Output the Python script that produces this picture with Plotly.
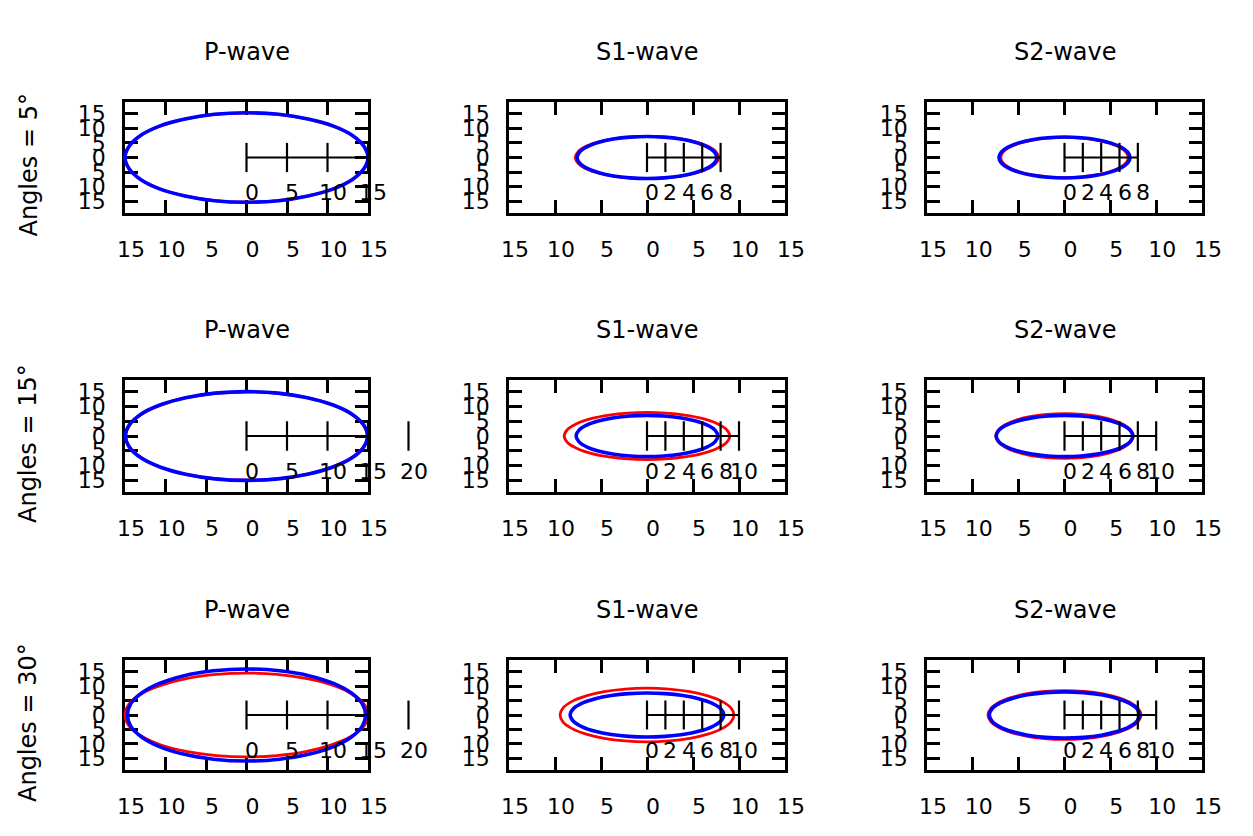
import plotly.graph_objects as go
import math

W, H = 1253, 836

col_titles = ["P-wave", "S1-wave", "S2-wave"]
row_labels = ["Angles = 5°", "Angles = 15°", "Angles = 30°"]

axis_tickvals = [-15, -10, -5, 0, 5, 10, 15]
axis_ticktext = ["15", "10", "5", "0", "5", "10", "15"]
x_limit = 15
y_limit = 19

# polar angles (degrees) at which the radii below were read
angles_deg = [0, 15, 30, 45, 60, 75, 90, 105, 120, 135, 150, 165,
              180, 195, 210, 225, 240, 255, 270, 285, 300, 315, 330, 345]

# ---- radii (red series, blue series) ----
p5_red = [15.0, 15.0, 15.1, 15.1, 15.2, 15.3, 15.3, 15.3, 15.2, 15.1, 15.1, 15.0,
          15.0, 15.0, 15.1, 15.1, 15.2, 15.3, 15.3, 15.3, 15.2, 15.1, 15.1, 15.0]
p5_blue = [15.0, 15.0, 15.1, 15.2, 15.2, 15.3, 15.3, 15.3, 15.2, 15.2, 15.1, 15.0,
           15.0, 15.0, 15.1, 15.2, 15.2, 15.3, 15.3, 15.3, 15.2, 15.2, 15.1, 15.0]
s1_5_red = [7.8, 7.75, 7.65, 7.5, 7.35, 7.25, 7.2, 7.25, 7.35, 7.5, 7.65, 7.75,
            7.8, 7.75, 7.65, 7.5, 7.35, 7.25, 7.2, 7.25, 7.35, 7.5, 7.65, 7.75]
s1_5_blue = [7.6, 7.57, 7.5, 7.4, 7.3, 7.22, 7.2, 7.22, 7.3, 7.4, 7.5, 7.57,
             7.6, 7.57, 7.5, 7.4, 7.3, 7.22, 7.2, 7.22, 7.3, 7.4, 7.5, 7.57]
s2_5_red = [6.95, 6.95, 6.94, 6.92, 6.91, 6.9, 6.9, 6.9, 6.91, 6.92, 6.94, 6.95,
            6.95, 6.95, 6.94, 6.92, 6.91, 6.9, 6.9, 6.9, 6.91, 6.92, 6.94, 6.95]
s2_5_blue = [7.15, 7.14, 7.11, 7.07, 7.04, 7.01, 7.0, 7.01, 7.04, 7.07, 7.11, 7.14,
             7.15, 7.14, 7.11, 7.07, 7.04, 7.01, 7.0, 7.01, 7.04, 7.07, 7.11, 7.14]

p15_red = [14.9, 14.9, 14.9, 15.0, 15.0, 15.0, 15.0, 15.0, 15.0, 14.9, 14.9, 14.9,
           14.9, 14.9, 14.9, 15.0, 15.0, 15.0, 15.0, 15.0, 15.0, 14.9, 14.9, 14.9]
p15_blue = [14.95, 14.95, 15.0, 15.0, 15.0, 15.05, 15.05, 15.05, 15.0, 15.0, 15.0, 14.95,
            14.95, 14.95, 15.0, 15.0, 15.0, 15.05, 15.05, 15.05, 15.0, 15.0, 15.0, 14.95]
s1_15_red = [9.0, 8.92, 8.71, 8.46, 8.22, 8.06, 8.0, 8.06, 8.22, 8.46, 8.71, 8.92,
             9.0, 8.92, 8.71, 8.46, 8.22, 8.06, 8.0, 8.06, 8.22, 8.46, 8.71, 8.92]
s1_15_blue = [7.7, 7.65, 7.51, 7.33, 7.16, 7.04, 7.0, 7.04, 7.16, 7.33, 7.51, 7.65,
              7.7, 7.65, 7.51, 7.33, 7.16, 7.04, 7.0, 7.04, 7.16, 7.33, 7.51, 7.65]
s2_15_red = [7.5, 7.51, 7.52, 7.55, 7.57, 7.59, 7.6, 7.59, 7.57, 7.55, 7.52, 7.51,
             7.5, 7.51, 7.52, 7.55, 7.57, 7.59, 7.6, 7.59, 7.57, 7.55, 7.52, 7.51]
s2_15_blue = [7.45, 7.42, 7.33, 7.22, 7.1, 7.03, 7.0, 7.03, 7.1, 7.22, 7.33, 7.42,
              7.45, 7.42, 7.33, 7.22, 7.1, 7.03, 7.0, 7.03, 7.1, 7.22, 7.33, 7.42]

p30_red = [15.0, 15.0, 14.9, 14.8, 14.6, 14.5, 14.5, 14.5, 14.6, 14.7, 14.9, 15.0,
           15.0, 15.0, 14.9, 14.8, 14.6, 14.5, 14.5, 14.5, 14.6, 14.7, 14.9, 15.0]
p30_blue = [14.7, 14.8, 15.0, 15.3, 15.6, 15.8, 15.9, 15.8, 15.6, 15.3, 15.0, 14.8,
            14.7, 14.8, 15.0, 15.3, 15.6, 15.8, 15.9, 15.8, 15.6, 15.3, 15.0, 14.8]
s1_30_red = [9.45, 9.44, 9.4, 9.35, 9.3, 9.26, 9.25, 9.26, 9.3, 9.35, 9.4, 9.44,
             9.45, 9.44, 9.4, 9.35, 9.3, 9.26, 9.25, 9.26, 9.3, 9.35, 9.4, 9.44]
s1_30_blue = [8.35, 8.29, 8.14, 7.95, 7.77, 7.65, 7.6, 7.65, 7.77, 7.95, 8.14, 8.29,
              8.35, 8.29, 8.14, 7.95, 7.77, 7.65, 7.6, 7.65, 7.77, 7.95, 8.14, 8.29]
s2_30_red = [8.35, 8.36, 8.38, 8.4, 8.42, 8.44, 8.45, 8.44, 8.42, 8.4, 8.38, 8.36,
             8.35, 8.36, 8.38, 8.4, 8.42, 8.44, 8.45, 8.44, 8.42, 8.4, 8.38, 8.36]
s2_30_blue = [8.2, 8.19, 8.15, 8.1, 8.05, 8.01, 8.0, 8.01, 8.05, 8.1, 8.15, 8.19,
              8.2, 8.19, 8.15, 8.1, 8.05, 8.01, 8.0, 8.01, 8.05, 8.1, 8.15, 8.19]

# radial scale-bar tick values per panel
scale_p5 = [0, 5, 10, 15]
scale_p = [0, 5, 10, 15, 20]
scale_s5 = [0, 2, 4, 6, 8]
scale_s = [0, 2, 4, 6, 8, 10]

panels = [
    [(p5_red, p5_blue, scale_p5), (s1_5_red, s1_5_blue, scale_s5), (s2_5_red, s2_5_blue, scale_s5)],
    [(p15_red, p15_blue, scale_p), (s1_15_red, s1_15_blue, scale_s), (s2_15_red, s2_15_blue, scale_s)],
    [(p30_red, p30_blue, scale_p), (s1_30_red, s1_30_blue, scale_s), (s2_30_red, s2_30_blue, scale_s)],
]

# ---- layout geometry (pixels) ----
col_px = [(125, 368), (509, 785), (927, 1202)]
row_px = [(102, 213), (380, 492), (660, 770)]
pad_l = 8

FONT = "DejaVu Sans"
font = dict(family=FONT, size=22, color="black")
title_font = dict(family=FONT, size=24, color="black")


def sfx(k):
    return "" if k == 1 else str(k)


fig = go.Figure()
layout = dict(
    width=W, height=H, autosize=False,
    margin=dict(l=0, r=0, t=0, b=0, pad=0, autoexpand=False),
    paper_bgcolor="white", plot_bgcolor="rgba(0,0,0,0)",
    showlegend=False, font=font,
)
annotations = []

for r in range(3):
    for c in range(3):
        k = r * 3 + c + 1
        ko = k + 9
        s, so = sfx(k), sfx(ko)
        L, R = col_px[c]
        T, B = row_px[r]
        pad_r = min(70, W - R - 1)
        ydom = [1 - B / H, 1 - T / H]
        axstyle = dict(
            showline=True, linewidth=2.5, linecolor="black", mirror="ticks",
            ticks="inside", ticklen=13, tickwidth=2.5, tickcolor="black",
            showgrid=False, zeroline=False, fixedrange=True, automargin=False,
            tickvals=axis_tickvals, ticktext=axis_ticktext, tickfont=font,
        )
        layout[f"xaxis{s}"] = dict(axstyle, domain=[L / W, R / W], range=[-x_limit, x_limit],
                                   anchor=f"y{s}", ticklabelstandoff=15, ticklabelshift=6)
        layout[f"yaxis{s}"] = dict(axstyle, domain=ydom, range=[-y_limit, y_limit],
                                   anchor=f"x{s}", ticklabelstandoff=12)
        # empty trace so the framed subplot is created
        fig.add_trace(go.Scatter(x=[], y=[], mode="lines", xaxis=f"x{s}", yaxis=f"y{s}",
                                 hoverinfo="skip"))
        # overlay axes with the same scale but a wider area (curves and radial scale)
        upp = 2 * x_limit / (R - L)
        layout[f"xaxis{so}"] = dict(domain=[(L - pad_l) / W, (R + pad_r) / W],
                                    range=[-x_limit - pad_l * upp, x_limit + pad_r * upp],
                                    visible=False, fixedrange=True, anchor=f"y{so}")
        layout[f"yaxis{so}"] = dict(domain=ydom, range=[-y_limit, y_limit],
                                    visible=False, fixedrange=True, anchor=f"x{so}")

        red, blue, scale = panels[r][c]
        for radii, color, lw in ((red, "#ff0000", 2.8), (blue, "#0000ff", 3.6)):
            rr = list(radii) + [radii[0]]
            aa = list(angles_deg) + [360]
            xs = [v * math.cos(math.radians(a)) for v, a in zip(rr, aa)]
            ys = [v * math.sin(math.radians(a)) for v, a in zip(rr, aa)]
            fig.add_trace(go.Scatter(x=xs, y=ys, mode="lines",
                                     line=dict(color=color, width=lw, shape="spline", smoothing=1),
                                     xaxis=f"x{so}", yaxis=f"y{so}", hoverinfo="skip"))
        # radial scale bar
        end = min(max(scale), x_limit)
        bx, by = [0, end, None], [0, 0, None]
        for t in scale:
            bx += [t, t, None]
            by += [-5, 5, None]
        fig.add_trace(go.Scatter(x=bx, y=by, mode="lines", line=dict(color="black", width=2.2),
                                 xaxis=f"x{so}", yaxis=f"y{so}", hoverinfo="skip"))
        for t in scale:
            annotations.append(dict(x=t, y=0, xref=f"x{so}", yref=f"y{so}", text=str(t),
                                    showarrow=False, xshift=5, yshift=-35, font=font,
                                    xanchor="center", yanchor="middle"))
        # panel title
        annotations.append(dict(x=0.5, y=1, xref=f"x{s} domain", yref=f"y{s} domain",
                                text=col_titles[c], showarrow=False, yshift=50,
                                xanchor="center", yanchor="middle", font=title_font))
    # row label
    annotations.append(dict(x=28 / W, y=0.5, xref="paper", yref=f"y{sfx(r * 3 + 1)} domain",
                            text=row_labels[r], showarrow=False, textangle=-90, yshift=-8,
                            xanchor="center", yanchor="middle", font=title_font))

layout["annotations"] = annotations
fig.update_layout(**layout)
fig.write_html("out.html")
